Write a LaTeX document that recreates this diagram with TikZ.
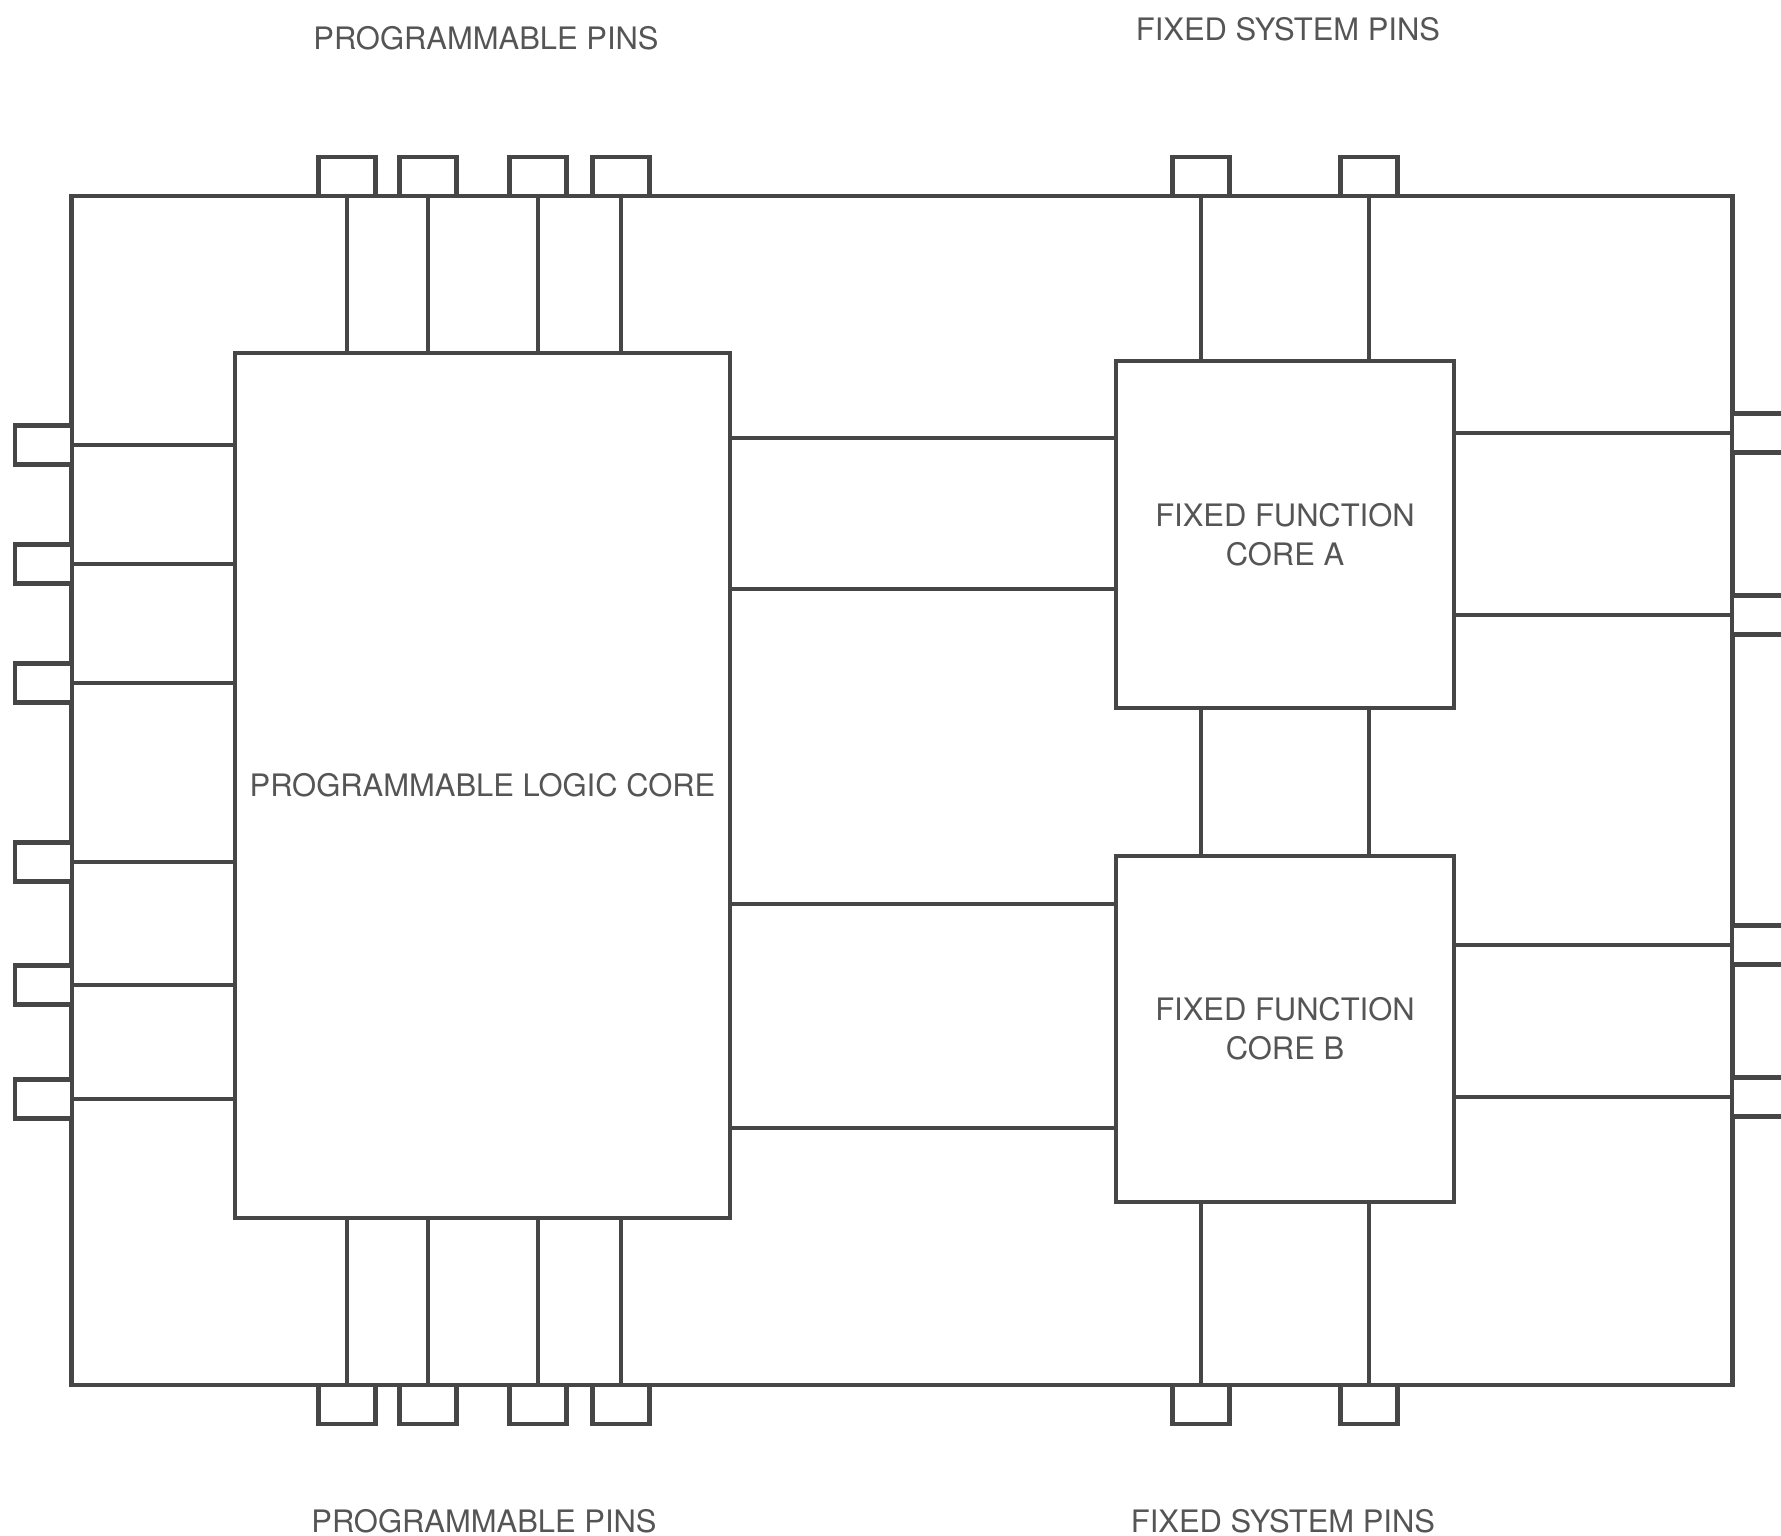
\documentclass[tikz,border=0pt]{standalone}
\usepackage{fontspec}
\setmainfont{TeX Gyre Heros}
\usepackage{tikz}
\usetikzlibrary{positioning, calc}
\definecolor{inkgray} {RGB}{70, 70, 70}
\definecolor{textgray}{RGB}{85, 85, 85}
\tikzset{
  wire/.style={
    draw=inkgray, line width=1.2pt
  },
  chipbox/.style={
    rectangle, draw=inkgray, line width=1.2pt,
    outer sep=0pt, inner sep=0pt
  },
  corebox/.style={
    chipbox, fill=white, text=textgray, align=center,
    font=\fontsize{8.8}{11.2}\selectfont
  },
  pinbox/.style={
    chipbox, fill=white,
    minimum width=0.57cm, minimum height=0.39cm
  },
  pinlabel/.style={
    text=textgray, inner sep=0pt,
    font=\fontsize{8.8}{11.2}\selectfont
  },
}
\begin{document}
\begin{tikzpicture}[x=0.01cm, y=-0.01cm]
  \useasboundingbox (0,0) rectangle (1781,1535);

  % Package outline
  \node[chipbox, minimum width=16.60cm, minimum height=11.89cm] (chip) at (902,790.5) {};

  % Cores
  \node[corebox, minimum width=4.95cm, minimum height=8.65cm] (plc) at (482.5,785.5)
        {PROGRAMMABLE LOGIC CORE};
  \node[corebox, minimum width=3.38cm, minimum height=3.47cm] (coreA) at (1285,534.5)
        {FIXED FUNCTION\\CORE A};
  \node[corebox, minimum width=3.38cm, minimum height=3.46cm] (coreB) at (1285,1029)
        {FIXED FUNCTION\\CORE B};

  % Programmable pins, top
  \node[pinbox, anchor=south] (tp1) at (347,196) {};
  \node[pinbox, anchor=south] (tp2) at (428,196) {};
  \node[pinbox, anchor=south] (tp3) at (538,196) {};
  \node[pinbox, anchor=south] (tp4) at (621,196) {};

  % Programmable pins, bottom
  \node[pinbox, anchor=north] (bp1) at (347,1385) {};
  \node[pinbox, anchor=north] (bp2) at (428,1385) {};
  \node[pinbox, anchor=north] (bp3) at (538,1385) {};
  \node[pinbox, anchor=north] (bp4) at (621,1385) {};

  % Programmable pins, left
  \node[pinbox, anchor=east] (lp1) at (72,445) {};
  \node[pinbox, anchor=east] (lp2) at (72,564) {};
  \node[pinbox, anchor=east] (lp3) at (72,683) {};
  \node[pinbox, anchor=east] (lp4) at (72,862) {};
  \node[pinbox, anchor=east] (lp5) at (72,985) {};
  \node[pinbox, anchor=east] (lp6) at (72,1099) {};

  % Fixed system pins
  \node[pinbox, anchor=south] (tf1) at (1201,196) {};
  \node[pinbox, anchor=south] (tf2) at (1369,196) {};
  \node[pinbox, anchor=north] (bf1) at (1201,1385) {};
  \node[pinbox, anchor=north] (bf2) at (1369,1385) {};
  \node[pinbox, anchor=west] (rp1) at (1732,433) {};
  \node[pinbox, anchor=west] (rp2) at (1732,615) {};
  \node[pinbox, anchor=west] (rp3) at (1732,945) {};
  \node[pinbox, anchor=west] (rp4) at (1732,1097) {};

  % Pin group labels
  \node[pinlabel] (progtop) at (486,38)   {PROGRAMMABLE PINS};
  \node[pinlabel] (fixtop)  at (1288,29)  {FIXED SYSTEM PINS};
  \node[pinlabel] (progbot) at (484,1521) {PROGRAMMABLE PINS};
  \node[pinlabel] (fixbot)  at (1283,1521) {FIXED SYSTEM PINS};

  % Programmable pins to logic core
  \draw[wire] (tp1.south) -- (tp1.south |- plc.north);
  \draw[wire] (tp2.south) -- (tp2.south |- plc.north);
  \draw[wire] (tp3.south) -- (tp3.south |- plc.north);
  \draw[wire] (tp4.south) -- (tp4.south |- plc.north);
  \draw[wire] (bp1.north) -- (bp1.north |- plc.south);
  \draw[wire] (bp2.north) -- (bp2.north |- plc.south);
  \draw[wire] (bp3.north) -- (bp3.north |- plc.south);
  \draw[wire] (bp4.north) -- (bp4.north |- plc.south);
  \draw[wire] (lp1.east) -- (lp1.east -| plc.west);
  \draw[wire] (lp2.east) -- (lp2.east -| plc.west);
  \draw[wire] (lp3.east) -- (lp3.east -| plc.west);
  \draw[wire] (lp4.east) -- (lp4.east -| plc.west);
  \draw[wire] (lp5.east) -- (lp5.east -| plc.west);
  \draw[wire] (lp6.east) -- (lp6.east -| plc.west);

  % Logic core to fixed cores
  \coordinate (ina1) at ($(coreA.north west)!0.222!(coreA.south west)$);
  \coordinate (ina2) at ($(coreA.north west)!0.657!(coreA.south west)$);
  \coordinate (inb1) at ($(coreB.north west)!0.139!(coreB.south west)$);
  \coordinate (inb2) at ($(coreB.north west)!0.786!(coreB.south west)$);
  \draw[wire] (ina1 -| plc.east) -- (ina1);
  \draw[wire] (ina2 -| plc.east) -- (ina2);
  \draw[wire] (inb1 -| plc.east) -- (inb1);
  \draw[wire] (inb2 -| plc.east) -- (inb2);

  % Fixed system pins to fixed cores
  \draw[wire] (tf1.south) -- (tf1.south |- coreA.north);
  \draw[wire] (tf2.south) -- (tf2.south |- coreA.north);
  \draw[wire] (tf1 |- coreA.south) -- (tf1 |- coreB.north);
  \draw[wire] (tf2 |- coreA.south) -- (tf2 |- coreB.north);
  \draw[wire] (bf1.north) -- (bf1.north |- coreB.south);
  \draw[wire] (bf2.north) -- (bf2.north |- coreB.south);
  \draw[wire] (rp1.west -| coreA.east) -- (rp1.west);
  \draw[wire] (rp2.west -| coreA.east) -- (rp2.west);
  \draw[wire] (rp3.west -| coreB.east) -- (rp3.west);
  \draw[wire] (rp4.west -| coreB.east) -- (rp4.west);
\end{tikzpicture}
\end{document}
